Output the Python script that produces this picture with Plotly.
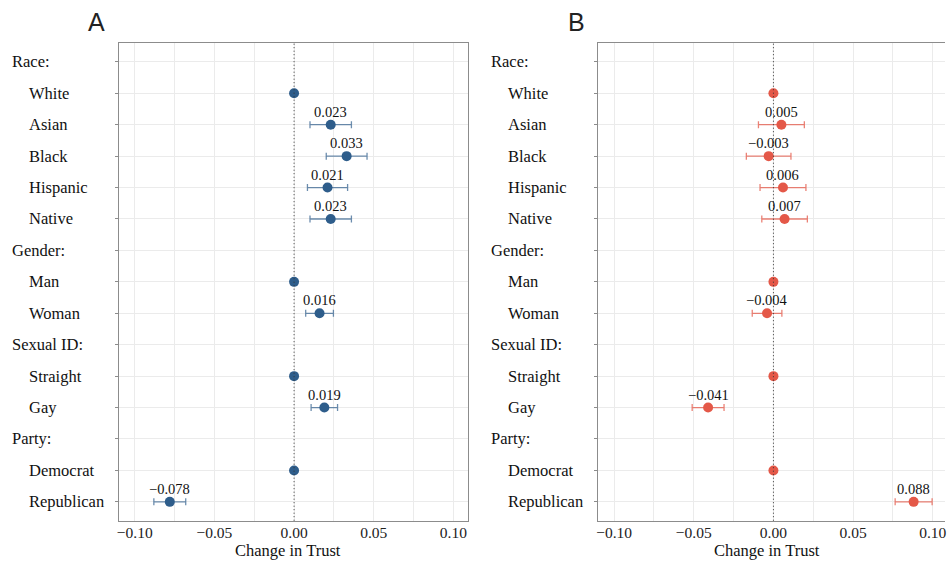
import plotly.graph_objects as go

categories = ["Race:", "White", "Asian", "Black", "Hispanic", "Native",
              "Gender:", "Man", "Woman", "Sexual ID:", "Straight", "Gay",
              "Party:", "Democrat", "Republican"]
is_header = [True, False, False, False, False, False,
             True, False, False, True, False, False,
             True, False, False]

# Panel A (None = header row, no estimate)
est_a = [None, 0.0, 0.023, 0.033, 0.021, 0.023,
         None, 0.0, 0.016, None, 0.0, 0.019,
         None, 0.0, -0.078]
err_a = [None, 0.0, 0.013, 0.0128, 0.0126, 0.013,
         None, 0.0, 0.0087, None, 0.0, 0.0083,
         None, 0.0, 0.010]
ref_a = [None, True, False, False, False, False,
         None, True, False, None, True, False,
         None, True, False]

# Panel B
est_b = [None, 0.0, 0.005, -0.003, 0.006, 0.007,
         None, 0.0, -0.004, None, 0.0, -0.041,
         None, 0.0, 0.088]
err_b = [None, 0.0, 0.0144, 0.014, 0.0144, 0.0143,
         None, 0.0, 0.0093, None, 0.0, 0.010,
         None, 0.0, 0.0116]
ref_b = ref_a

xticks = [-0.10, -0.05, 0.00, 0.05, 0.10]
xtick_text = ["\u22120.10", "\u22120.05", "0.00", "0.05", "0.10"]
xminor = [-0.075, -0.025, 0.025, 0.075]
x_title = "Change in Trust"

W, H = 947, 561
SERIF = "Liberation Serif"

def fmt(v):
    s = f"{v:.3f}"
    return s.replace("-", "\u2212")

fig = go.Figure()

def add_panel(est, err, ref, color, bar_color, xa, ya):
    xs, ys, es = [], [], []
    for i, (v, e, r) in enumerate(zip(est, err, ref)):
        if v is None:
            continue
        xs.append(v)
        ys.append(i)
        es.append(e)
        if not r:
            fig.add_annotation(x=v, y=i, xref=xa, yref=ya, text=fmt(v), showarrow=False,
                               yshift=13, xanchor="center", yanchor="middle",
                               font=dict(family=SERIF, size=14.5, color="#111"))
    fig.add_trace(go.Scatter(
        x=xs, y=ys, mode="markers",
        marker=dict(size=10, color=color),
        error_x=dict(type="data", array=es, visible=True, color=bar_color,
                     thickness=1.3, width=3.5),
        xaxis=xa, yaxis=ya, showlegend=False, cliponaxis=False))

blue = "#2E5D8B"
blue_bar = "rgba(46,93,139,0.7)"
red = "#E45848"
red_bar = "rgba(228,88,72,0.75)"

add_panel(est_a, err_a, ref_a, blue, blue_bar, "x", "y")
add_panel(est_b, err_b, ref_b, red, red_bar, "x2", "y2")

top_px, bot_px = 43, 520.7
ydom = [1 - bot_px / H, 1 - top_px / H]
scale = 1600.0  # px per unit
a_left, a_right = 117.3, 468.0
b_left = 598.7
a_range = [-0.11, -0.11 + (a_right - a_left) / scale]
b_range = [-0.11, -0.11 + (W - b_left) / scale]

grid = "#EBEBEB"
line_c = "#8C8C8C"

xcommon = dict(tickvals=xticks, ticktext=xtick_text, showgrid=True,
               gridcolor=grid, gridwidth=1, zeroline=False,
               showline=True, mirror=True, linecolor=line_c, linewidth=1.2,
               ticks="", tickfont=dict(family=SERIF, size=15.5, color="#222"),
               ticklabeloverflow="allow", ticklabelstandoff=-2,
               minor=dict(tickvals=xminor, showgrid=True, gridcolor=grid, gridwidth=1))
ycommon = dict(tickvals=list(range(len(categories))),
               showticklabels=False, showgrid=True, gridcolor=grid, gridwidth=1,
               zeroline=False, ticks="outside", ticklen=3, tickcolor=line_c,
               showline=True, linecolor=line_c, linewidth=1.2, domain=ydom)

yrange = [len(categories) - 1 + 0.6, -0.6]

fig.update_layout(
    width=W, height=H, margin=dict(l=0, r=0, t=0, b=0),
    plot_bgcolor="white", paper_bgcolor="white",
    xaxis=dict(domain=[a_left / W, a_right / W], range=a_range, anchor="y", **xcommon),
    xaxis2=dict(domain=[b_left / W, 1.0], range=b_range, anchor="y2", **xcommon),
    yaxis=dict(anchor="x", mirror=True, range=yrange, **ycommon),
    yaxis2=dict(anchor="x2", mirror=False, range=yrange, **ycommon),
)

# zero reference lines
for xr, yr in (("x", "y"), ("x2", "y2")):
    fig.add_shape(type="line", xref=xr, yref=f"{yr} domain", x0=0, x1=0, y0=0, y1=1,
                  line=dict(color="#333", width=1, dash="1px,2.5px"), layer="above")

# y labels as left-aligned annotations
for x_head, x_item, yr in ((12, 29, "y"), (493, 510, "y2")):
    for i, (c, h) in enumerate(zip(categories, is_header)):
        fig.add_annotation(x=(x_head if h else x_item) / W, xref="paper", y=i, yref=yr,
                           text=c, showarrow=False, xanchor="left", yanchor="middle",
                           xshift=-3.5,
                           font=dict(family=SERIF, size=16.5, color="#111"))

# x-axis titles
for xp in (287, 768):
    fig.add_annotation(x=xp / W, y=1 - 550.5 / H, xref="paper", yref="paper", text=x_title,
                       showarrow=False, xanchor="center", yanchor="middle", borderpad=0,
                       font=dict(family=SERIF, size=16.5, color="#111"))

for lab, xp in (("A", 95), ("B", 577)):
    fig.add_annotation(x=xp / W, y=1 - 22 / H, xref="paper", yref="paper", text=lab,
                       showarrow=False, xanchor="center", yanchor="middle",
                       font=dict(family="Liberation Sans", size=25, color="#222"))

fig.write_html("out.html")
